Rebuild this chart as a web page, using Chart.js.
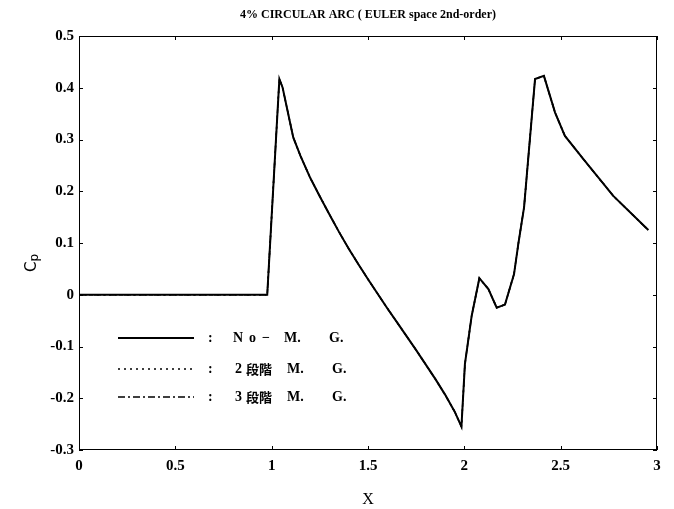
<!DOCTYPE html>
<html>
<head>
<meta charset="utf-8">
<script src="https://cdn.jsdelivr.net/npm/chart.js@4/dist/chart.umd.min.js"></script>
<style>
  html, body { margin: 0; padding: 0; background: #fff; }
  #wrap { width: 674px; height: 509px; }
</style>
</head>
<body>
<div id="wrap"><canvas id="c" width="674" height="509"></canvas></div>
<script>
// ---- data ----
const xValues = [0, 0.977, 1.04, 1.057, 1.112, 1.15, 1.2, 1.25, 1.3, 1.35, 1.4, 1.45, 1.5, 1.55, 1.6, 1.65, 1.7, 1.75, 1.8, 1.85, 1.9, 1.95, 1.985, 2.003, 2.038, 2.078, 2.125, 2.168, 2.211, 2.258, 2.28, 2.31, 2.367, 2.413, 2.471, 2.522, 2.618, 2.773, 2.955];
const cpNoMG = [0, 0, 0.417, 0.40, 0.304, 0.268, 0.226, 0.19, 0.155, 0.121, 0.089, 0.059, 0.030, 0.002, -0.026, -0.053, -0.080, -0.107, -0.135, -0.163, -0.193, -0.226, -0.255, -0.134, -0.041, 0.032, 0.011, -0.025, -0.019, 0.040, 0.098, 0.169, 0.417, 0.423, 0.352, 0.307, 0.262, 0.191, 0.125];
// the 2-level and 3-level multigrid results coincide with the single-grid curve in the figure
const cp2MG = cpNoMG.slice();
const cp3MG = cpNoMG.slice();
const seriesNames = ['N o − M.  G.', '2 段階  M.  G.', '3 段階  M.  G.'];
const xTicks = [0, 0.5, 1, 1.5, 2, 2.5, 3];
const yTicks = [-0.3, -0.2, -0.1, 0, 0.1, 0.2, 0.3, 0.4, 0.5];
const titleText = '4% CIRCULAR ARC ( EULER space 2nd-order)';

const toPts = ys => xValues.map((x, i) => ({ x: x, y: ys[i] }));

const SERIF = '"Liberation Serif", "DejaVu Serif", serif';

const framePlugin = {
  id: 'frame',
  afterDatasetsDraw(chart) {
    const { ctx, chartArea: a, scales } = chart;
    ctx.save();
    ctx.strokeStyle = '#000';
    ctx.lineWidth = 1;
    ctx.strokeRect(a.left + 0.5, a.top + 0.5, a.right - a.left - 1, a.bottom - a.top - 1);
    const tl = 4;
    ctx.beginPath();
    xTicks.forEach(v => {
      const px = Math.round(scales.x.getPixelForValue(v)) + 0.5;
      ctx.moveTo(px, a.bottom); ctx.lineTo(px, a.bottom - tl);
      ctx.moveTo(px, a.top); ctx.lineTo(px, a.top + tl);
    });
    yTicks.forEach(v => {
      const py = Math.round(scales.y.getPixelForValue(v)) + 0.5;
      ctx.moveTo(a.left, py); ctx.lineTo(a.left + tl, py);
      ctx.moveTo(a.right, py); ctx.lineTo(a.right - tl, py);
    });
    ctx.stroke();
    ctx.restore();
  },
  afterDraw(chart) {
    const { ctx } = chart;
    ctx.save();
    // y-axis label C_p (rotated)
    ctx.translate(30, 263);
    ctx.rotate(-Math.PI / 2);
    ctx.fillStyle = '#000';
    ctx.textBaseline = 'alphabetic';
    ctx.textAlign = 'left';
    ctx.font = '15px "DejaVu Sans", sans-serif';
    const cw = ctx.measureText('C').width;
    ctx.fillText('C', -9, 6);
    ctx.font = '12px "DejaVu Sans", sans-serif';
    ctx.fillText('p', -9 + cw, 8);
    ctx.restore();

    // legend drawn inside the plot area, as in the reference
    const rows = [338, 369, 397];
    const dashes = [[], [2, 4], [7, 3, 2, 3]];
    ctx.save();
    rows.forEach((y, i) => {
      ctx.beginPath();
      ctx.setLineDash(dashes[i]);
      ctx.lineWidth = i === 0 ? 2 : 1.6;
      ctx.strokeStyle = '#000';
      ctx.moveTo(118, y); ctx.lineTo(194, y);
      ctx.stroke();
      ctx.setLineDash([]);
      ctx.fillStyle = '#000';
      ctx.textBaseline = 'middle';
      ctx.textAlign = 'left';
      ctx.font = 'bold 14px ' + SERIF;
      ctx.fillText(':', 208, y);
      const name = seriesNames[i];
      if (i === 0) {
        ctx.fillText('N', 233, y);
        ctx.fillText('o', 249, y);
        ctx.fillText('−', 262, y);
        ctx.fillText('M.', 284, y);
        ctx.fillText('G.', 329, y);
      } else {
        const parts = name.split(/\s+/);
        ctx.fillText(parts[0], 235, y);
        ctx.font = 'bold 13px "Noto Sans CJK JP", sans-serif';
        ctx.fillText(parts[1], 246, y);
        ctx.font = 'bold 14px ' + SERIF;
        ctx.fillText(parts[2], 287, y);
        ctx.fillText(parts[3], 332, y);
      }
    });
    ctx.restore();
  }
};

new Chart(document.getElementById('c'), {
  type: 'scatter',
  data: {
    datasets: [
      { label: seriesNames[0], data: toPts(cpNoMG), showLine: true, borderColor: '#000', borderWidth: 2, pointRadius: 0, fill: false, tension: 0 },
      { label: seriesNames[1], data: toPts(cp2MG), showLine: true, borderColor: '#000', borderWidth: 1.5, borderDash: [2, 4], pointRadius: 0, fill: false, tension: 0 },
      { label: seriesNames[2], data: toPts(cp3MG), showLine: true, borderColor: '#000', borderWidth: 1.5, borderDash: [7, 3, 2, 3], pointRadius: 0, fill: false, tension: 0 }
    ]
  },
  options: {
    responsive: false,
    animation: false,
    layout: { padding: { left: 0, right: 17, top: 0, bottom: 0 } },
    plugins: {
      legend: { display: false },
      tooltip: { enabled: false },
      title: {
        display: true,
        text: titleText,
        fullSize: false,
        color: '#000',
        font: { family: SERIF, size: 12, weight: 'bold', lineHeight: 1.2 },
        padding: { top: 8, bottom: 13.6 }
      }
    },
    scales: {
      x: {
        type: 'linear',
        min: 0, max: 3,
        afterFit: s => { s.height = 59; },
        afterBuildTicks: s => { s.ticks = xTicks.map(v => ({ value: v })); },
        grid: { display: false, drawTicks: false },
        border: { display: false },
        ticks: { color: '#000', font: { family: SERIF, size: 15, weight: 'bold' }, padding: 7, maxRotation: 0, autoSkip: false, callback: v => String(v) },
        title: { display: true, text: 'X', color: '#000', font: { family: SERIF, size: 16 }, padding: { top: 5, bottom: 0 } }
      },
      y: {
        type: 'linear',
        min: -0.3, max: 0.5,
        afterFit: s => { s.width = 79; },
        afterBuildTicks: s => { s.ticks = yTicks.map(v => ({ value: v })); },
        grid: { display: false, drawTicks: false },
        border: { display: false },
        ticks: { color: '#000', font: { family: SERIF, size: 15, weight: 'bold' }, padding: 5, autoSkip: false, callback: v => String(Math.round(v * 10) / 10) },
        title: { display: false }
      }
    }
  },
  plugins: [framePlugin]
});
</script>
</body>
</html>
